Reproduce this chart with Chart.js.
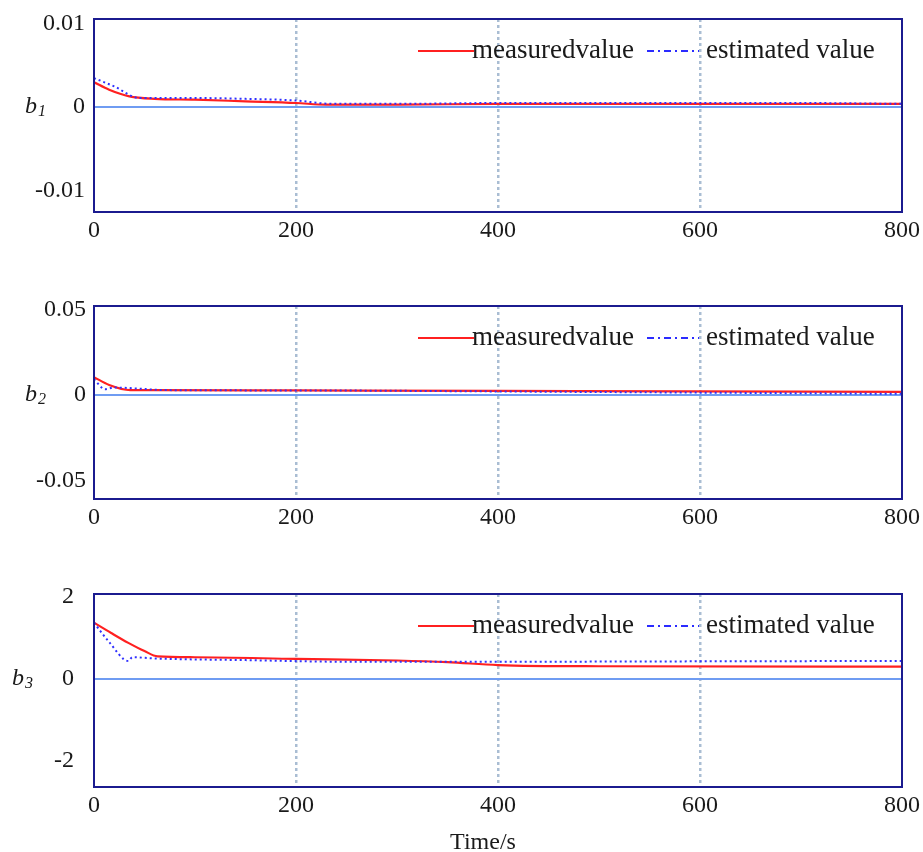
<!DOCTYPE html>
<html>
<head>
<meta charset="utf-8">
<script src="https://cdn.jsdelivr.net/npm/chart.js@4/dist/chart.umd.min.js"></script>
<style>
  html, body { margin: 0; padding: 0; background: #fff; overflow: hidden; }
  .panel { position: absolute; left: 0; }
</style>
</head>
<body>
<div class="panel" style="top:0px"><canvas id="c1" width="923" height="290"></canvas></div>
<div class="panel" style="top:290px"><canvas id="c2" width="923" height="290"></canvas></div>
<div class="panel" style="top:580px"><canvas id="c3" width="923" height="280"></canvas></div>
<script>
// legend + axis text
const legendLabels = ['measuredvalue', 'estimated value'];
const xTitle = 'Time/s';
const xTickVals = [0, 200, 400, 600, 800];

// b1
const b1Name = ['b', '1'];
const b1TickVals = [-0.01, 0, 0.01];
const b1TickLabels = ['-0.01', '0', '0.01'];
const b1MeasT = [0, 15, 35, 60, 100, 150, 200, 230, 300, 400, 500, 600, 700, 800];
const b1Meas = [0.0030, 0.0021, 0.0013, 0.0010, 0.0009, 0.0007, 0.0005, 0.0003, 0.0003, 0.0004, 0.0004, 0.0004, 0.0004, 0.0004];
const b1EstT = [0, 20, 45, 100, 150, 200, 235, 300, 400, 500, 600, 700, 800];
const b1Est = [0.0035, 0.0025, 0.0011, 0.0011, 0.0010, 0.0008, 0.0004, 0.0004, 0.0005, 0.0005, 0.0005, 0.0005, 0.0004];

// b2
const b2Name = ['b', '2'];
const b2TickVals = [-0.05, 0, 0.05];
const b2TickLabels = ['-0.05', '0', '0.05'];
const b2MeasT = [0, 15, 36, 60, 200, 400, 600, 800];
const b2Meas = [0.0106, 0.0060, 0.0030, 0.0030, 0.0028, 0.0025, 0.0022, 0.0020];
const b2EstT = [0, 11, 20, 40, 70, 200, 400, 600, 800];
const b2Est = [0.0094, 0.0035, 0.0045, 0.0040, 0.0030, 0.0028, 0.0022, 0.0015, 0.0008];

// b3
const b3Name = ['b', '3'];
const b3TickVals = [-2, 0, 2];
const b3TickLabels = ['-2', '0', '2'];
const b3MeasT = [0, 17, 34, 50, 63, 100, 200, 300, 350, 400, 500, 800];
const b3Meas = [1.37, 1.12, 0.88, 0.68, 0.55, 0.53, 0.49, 0.45, 0.41, 0.34, 0.31, 0.30];
const b3EstT = [0, 15, 34, 38, 60, 150, 250, 400, 600, 800];
const b3Est = [1.37, 0.90, 0.44, 0.53, 0.50, 0.46, 0.42, 0.42, 0.43, 0.44];

const serif = '"Liberation Serif", "DejaVu Serif", serif';

function toPoints(ts, vs) {
    return ts.map((t, i) => ({ x: t, y: vs[i] }));
}

// frame, in-plot legend and the italic b_n axis name
const framePlugin = {
    id: 'frame',
    afterDraw(chart, args, opts) {
        const ctx = chart.ctx;
        const a = chart.chartArea;
        ctx.save();
        ctx.strokeStyle = '#1b1b8f';
        ctx.lineWidth = 2;
        ctx.strokeRect(a.left, a.top, a.width, a.height);

        const ly = a.top + 32;
        ctx.lineWidth = 2;
        ctx.strokeStyle = '#ff2020';
        ctx.beginPath(); ctx.moveTo(418, ly); ctx.lineTo(474, ly); ctx.stroke();
        ctx.strokeStyle = '#2b2bff';
        ctx.setLineDash([7, 4, 2, 4]);
        ctx.beginPath(); ctx.moveTo(647, ly); ctx.lineTo(699, ly); ctx.stroke();
        ctx.setLineDash([]);
        ctx.fillStyle = '#1a1a1a';
        ctx.font = '27px ' + serif;
        ctx.textBaseline = 'middle';
        ctx.fillText(legendLabels[0], 472, ly);
        ctx.fillText(legendLabels[1], 706, ly);

        const zy = chart.scales.y.getPixelForValue(0);
        ctx.textBaseline = 'alphabetic';
        ctx.font = 'italic 24px ' + serif;
        ctx.fillText(opts.name[0], opts.nameX, zy + 6);
        const bw = ctx.measureText(opts.name[0]).width;
        ctx.font = 'italic 16px ' + serif;
        ctx.fillText(opts.name[1], opts.nameX + bw + 1, zy + 9);

        if (opts.title) {
            ctx.font = '24px ' + serif;
            ctx.textAlign = 'center';
            ctx.textBaseline = 'middle';
            ctx.fillText(xTitle, 483, 263);
        }
        ctx.restore();
    }
};

function makePanel(id, p) {
    const ctx = document.getElementById(id).getContext('2d');
    return new Chart(ctx, {
        type: 'line',
        data: {
            datasets: [
                {
                    label: legendLabels[0],
                    data: toPoints(p.measT, p.meas),
                    borderColor: '#ff2020',
                    borderWidth: 2.2,
                    pointRadius: 0,
                    cubicInterpolationMode: 'monotone',
                    order: 2
                },
                {
                    label: legendLabels[1],
                    data: toPoints(p.estT, p.est),
                    borderColor: '#3030ff',
                    borderWidth: 2,
                    borderDash: [2, 3],
                    pointRadius: 0,
                    cubicInterpolationMode: 'monotone',
                    order: 1
                }
            ]
        },
        options: {
            responsive: false,
            animation: false,
            layout: { padding: { top: p.padTop, right: 21, left: 0, bottom: 0 } },
            plugins: {
                legend: { display: false },
                tooltip: { enabled: false },
                frame: { name: p.name, nameX: p.nameX, title: !!p.showTitle }
            },
            scales: {
                x: {
                    type: 'linear',
                    min: 0,
                    max: 800,
                    afterBuildTicks: s => { s.ticks = xTickVals.map(v => ({ value: v })); },
                    afterFit: s => { s.height = p.xHeight; s.paddingLeft = 0; s.paddingRight = 0; },
                    grid: {
                        drawTicks: false,
                        lineWidth: 2.5,
                        color: c => (c.tick && c.tick.value > 0 && c.tick.value < 800) ? '#a9bdd3' : 'rgba(0,0,0,0)'
                    },
                    border: { display: false, dash: [3, 3] },
                    ticks: {
                        padding: 4,
                        maxRotation: 0,
                        autoSkip: false,
                        color: '#1a1a1a',
                        font: { family: serif, size: 24 }
                    }
                },
                y: {
                    min: p.yMin,
                    max: p.yMax,
                    afterBuildTicks: s => { s.ticks = p.tickVals.map(v => ({ value: v })); },
                    afterFit: s => { s.width = 94; s.paddingTop = 0; s.paddingBottom = 0; },
                    grid: {
                        drawTicks: false,
                        lineWidth: 2,
                        color: c => (c.tick && c.tick.value === 0) ? '#6f9cf2' : 'rgba(0,0,0,0)'
                    },
                    border: { display: false },
                    ticks: {
                        padding: p.tickPad,
                        color: '#1a1a1a',
                        font: { family: serif, size: 24 },
                        callback: v => p.tickLabels[p.tickVals.indexOf(v)]
                    }
                }
            }
        },
        plugins: [framePlugin]
    });
}

makePanel('c1', {
    measT: b1MeasT, meas: b1Meas, estT: b1EstT, est: b1Est,
    yMin: -0.0126, yMax: 0.0106, tickVals: b1TickVals, tickLabels: b1TickLabels,
    name: b1Name, nameX: 25, tickPad: 9, padTop: 19, xHeight: 78
});
makePanel('c2', {
    measT: b2MeasT, meas: b2Meas, estT: b2EstT, est: b2Est,
    yMin: -0.061, yMax: 0.0524, tickVals: b2TickVals, tickLabels: b2TickLabels,
    name: b2Name, nameX: 25, tickPad: 8, padTop: 16, xHeight: 81
});
makePanel('c3', {
    measT: b3MeasT, meas: b3Meas, estT: b3EstT, est: b3Est,
    yMin: -2.63, yMax: 2.07, tickVals: b3TickVals, tickLabels: b3TickLabels,
    name: b3Name, nameX: 12, tickPad: 20, padTop: 14, xHeight: 73, showTitle: true
});
</script>
</body>
</html>
